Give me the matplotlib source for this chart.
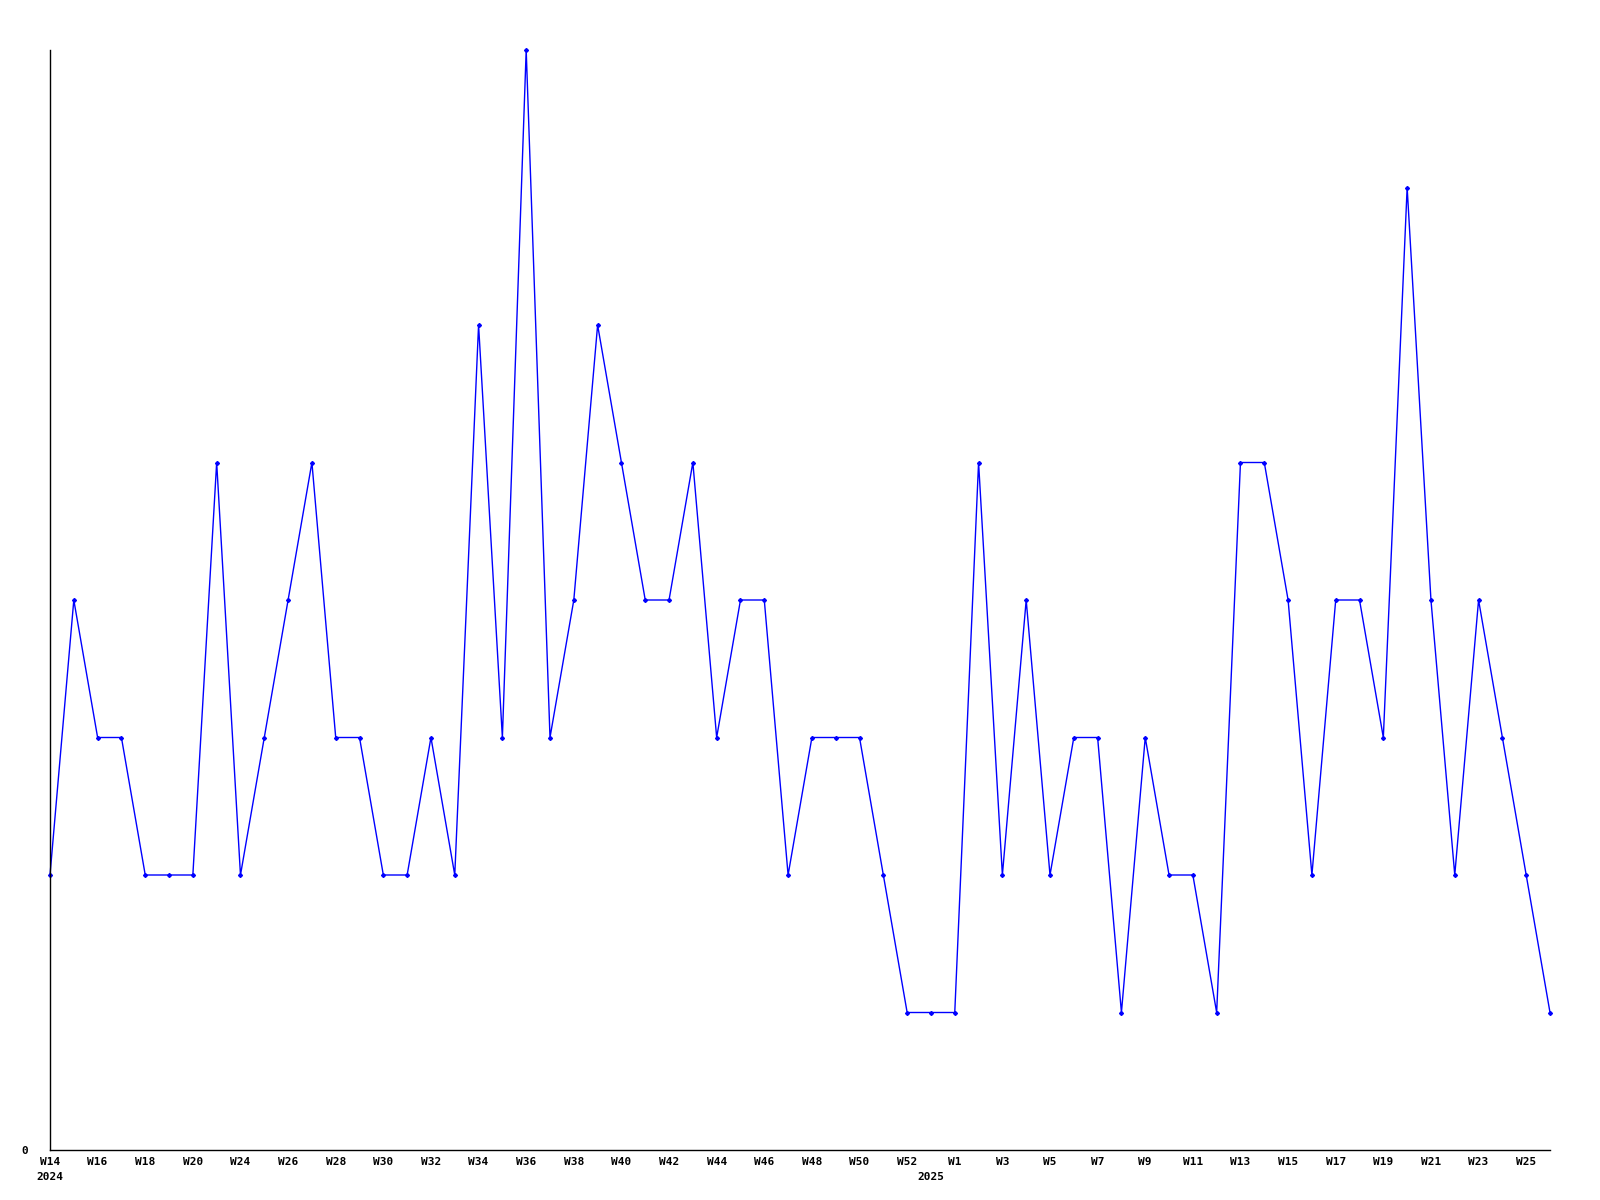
import numpy as np
import matplotlib
matplotlib.use('Agg')
from matplotlib import pyplot as plt

values = [2, 4, 3, 3, 2, 2, 2, 5, 2, 3, 4, 5, 3, 3, 2, 2, 3, 2, 6, 3,
          8, 3, 4, 6, 5, 4, 4, 5, 3, 4, 4, 2, 3, 3, 3, 2, 1, 1, 1, 5,
          2, 4, 2, 3, 3, 1, 3, 2, 2, 1, 5, 5, 4, 2, 4, 4, 3, 7, 4, 2,
          4, 3, 2, 1]
week_labels = ['W14', 'W16', 'W18', 'W20', 'W24', 'W26', 'W28', 'W30',
               'W32', 'W34', 'W36', 'W38', 'W40', 'W42', 'W44', 'W46',
               'W48', 'W50', 'W52', 'W1', 'W3', 'W5', 'W7', 'W9',
               'W11', 'W13', 'W15', 'W17', 'W19', 'W21', 'W23', 'W25']
years = ['2024', '2025']
year_pos = [0, 37]

font = dict(family='DejaVu Sans Mono', fontweight='bold', fontsize=8)


def main():
    fig = plt.figure(figsize=(16, 12), dpi=100)
    ax = fig.add_axes([50 / 1600, 50 / 1200, 1500 / 1600, 1100 / 1200])

    x = np.arange(len(values))
    ax.plot(x, values, color='#0000ff', linewidth=1, marker='D',
            markersize=2, clip_on=False)

    ax.set_xlim(0, len(values) - 1)
    ax.set_ylim(0, max(values))
    for side in ('top', 'right'):
        ax.spines[side].set_visible(False)
    for side in ('left', 'bottom'):
        ax.spines[side].set_linewidth(1)

    ax.set_yticks([0])
    ax.set_yticklabels(['0'], **font)
    ax.tick_params(axis='y', length=0, pad=16)

    ax.set_xticks(x[::2][:len(week_labels)])
    ax.set_xticklabels(week_labels, **font)
    ax.tick_params(axis='x', length=0, pad=5)

    for yr, pos in zip(years, year_pos):
        ax.annotate(yr, xy=(pos, 0), xytext=(0, -16), textcoords='offset points',
                    ha='center', va='top', annotation_clip=False, **font)

    fig.savefig('out.png', dpi=100)


if __name__ == '__main__':
    main()
